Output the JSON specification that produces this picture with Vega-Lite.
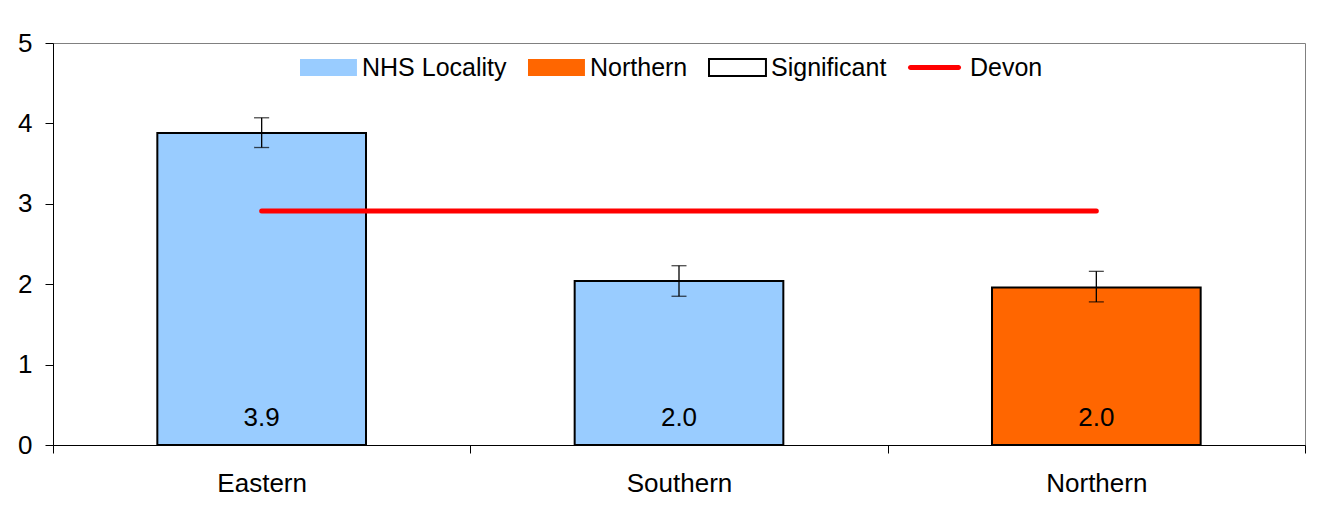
{
  "$schema": "https://vega.github.io/schema/vega-lite/v6.json",
  "width": 1252,
  "height": 402,
  "autosize": "none",
  "padding": {"left": 53, "top": 43, "right": 14, "bottom": 63},
  "background": "white",
  "config": {
    "font": "Liberation Sans",
    "view": {"stroke": "#808080", "strokeWidth": 1},
    "axis": {"labelFont": "Liberation Sans", "labelFontSize": 26, "labelColor": "black", "domainColor": "black", "tickColor": "black", "domainWidth": 1, "tickWidth": 1, "tickSize": 8, "grid": false, "title": null}
  },
  "data": {
    "values": [
      {"locality": "Eastern", "group": "NHS Locality", "value": 3.88, "lower": 3.70, "upper": 4.07, "devon": 2.91},
      {"locality": "Southern", "group": "NHS Locality", "value": 2.04, "lower": 1.85, "upper": 2.23, "devon": 2.91},
      {"locality": "Northern", "group": "Northern", "value": 1.96, "lower": 1.78, "upper": 2.16, "devon": 2.91}
    ]
  },
  "encoding": {
    "x": {
      "field": "locality", "type": "nominal", "sort": null,
      "scale": {"paddingInner": 0, "paddingOuter": 0},
      "axis": {"labelAngle": 0, "tickBand": "extent", "labelPadding": 17, "title": null}
    }
  },
  "layer": [
    {
      "mark": {"type": "bar", "stroke": "black", "strokeWidth": 2, "width": {"band": 0.5}},
      "encoding": {
        "y": {"field": "value", "type": "quantitative", "scale": {"domain": [0, 5], "nice": false}, "axis": {"values": [0, 1, 2, 3, 4, 5], "format": "d", "labelPadding": 13, "title": null}},
        "color": {
          "field": "group", "type": "nominal",
          "scale": {"domain": ["NHS Locality", "Northern", "Significant", "Devon"], "range": ["#99CCFF", "#FF6600", "#FFFFFF", "#FF0000"]},
          "legend": {
            "title": null,
            "orient": "none",
            "legendX": 243,
            "legendY": 12,
            "direction": "horizontal",
            "gridAlign": "none",
            "labelFont": "Liberation Sans",
            "labelFontSize": 25,
            "labelColor": "black",
            "labelLimit": 400,
            "labelOffset": 41,
            "columnPadding": 17,
            "symbolSize": 289,
            "symbolStrokeWidth": 2,
            "symbolOpacity": 1
          }
        }
      }
    },
    {
      "mark": {"type": "point", "filled": true, "size": 0},
      "encoding": {
        "y": {"field": "value", "type": "quantitative"},
        "color": {"field": "group", "type": "nominal"},
        "shape": {
          "field": "group", "type": "nominal",
          "scale": {"domain": ["NHS Locality", "Northern", "Significant", "Devon"], "range": ["M-1,-1H5.7V1H-1Z", "M-1,-1H5.7V1H-1Z", "M-1,-1H5.7V1H-1Z", "M-0.7,-0.3H4.94A0.3,0.3 0 0 1 4.94,0.3H-0.7A0.3,0.3 0 0 1 -0.7,-0.3Z"]}
        },
        "stroke": {
          "field": "group", "type": "nominal",
          "scale": {"domain": ["NHS Locality", "Northern", "Significant", "Devon"], "range": ["transparent", "transparent", "black", "transparent"]}
        }
      }
    },
    {
      "mark": {"type": "rule", "color": "black", "strokeWidth": 1.3},
      "encoding": {
        "y": {"field": "lower", "type": "quantitative"},
        "y2": {"field": "upper"}
      }
    },
    {
      "mark": {"type": "tick", "color": "black", "size": 15, "thickness": 1.3, "orient": "horizontal"},
      "encoding": {"y": {"field": "lower", "type": "quantitative"}}
    },
    {
      "mark": {"type": "tick", "color": "black", "size": 15, "thickness": 1.3, "orient": "horizontal"},
      "encoding": {"y": {"field": "upper", "type": "quantitative"}}
    },
    {
      "mark": {"type": "line", "color": "#FF0000", "strokeWidth": 5, "strokeCap": "round"},
      "encoding": {"y": {"field": "devon", "type": "quantitative"}}
    },
    {
      "mark": {"type": "text", "fontSize": 26, "font": "Liberation Sans", "color": "black", "baseline": "alphabetic", "dy": -19},
      "encoding": {
        "y": {"datum": 0, "type": "quantitative"},
        "text": {"field": "value", "type": "quantitative", "format": ".1f"}
      }
    }
  ]
}
